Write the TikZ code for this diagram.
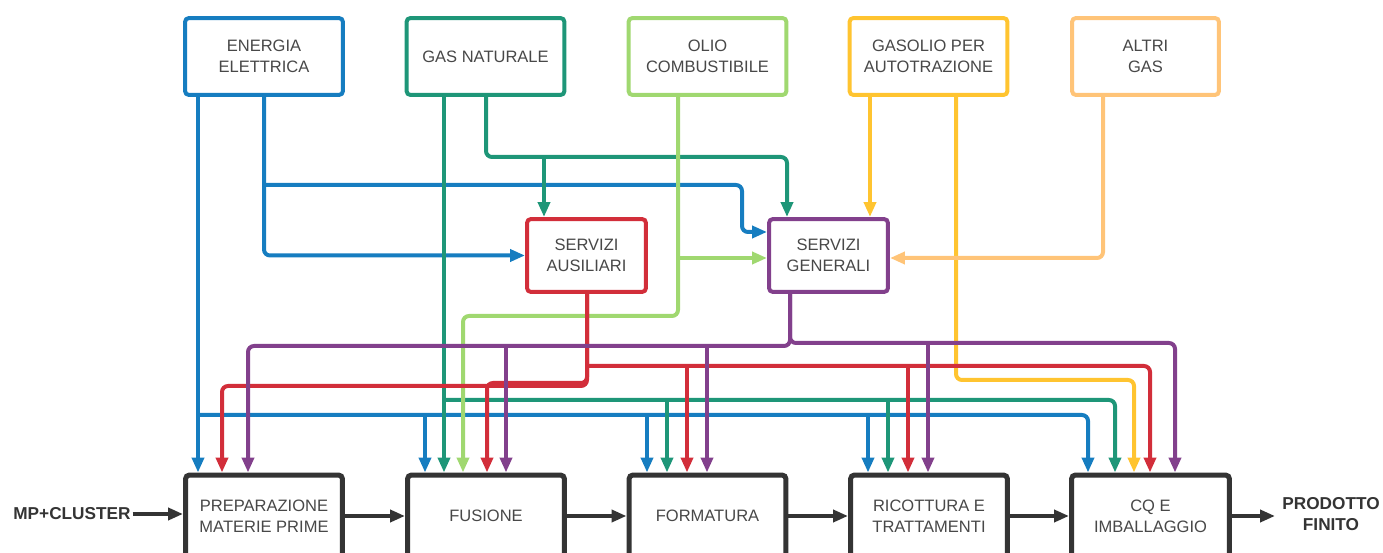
\documentclass[tikz,border=0pt]{standalone}
\usepackage{fontspec}
\setmainfont{Liberation Sans}
\usetikzlibrary{arrows.meta}
\definecolor{cblue}{RGB}{22,125,192}
\definecolor{cgreen}{RGB}{30,150,120}
\definecolor{clgreen}{RGB}{160,216,112}
\definecolor{cyellow}{RGB}{255,196,48}
\definecolor{corange}{RGB}{255,196,120}
\definecolor{cred}{RGB}{210,46,58}
\definecolor{cpurple}{RGB}{130,64,140}
\definecolor{cdark}{RGB}{52,52,52}
\definecolor{txtgray}{RGB}{72,72,72}
\begin{document}
\begin{tikzpicture}[x=0.02cm,y=-0.02cm,
  box/.style={draw, rounded corners=0.08cm, line width=0.08cm, fill=white,
    minimum width=3.16cm, minimum height=1.54cm, inner sep=0pt, align=center,
    text=txtgray, font=\fontsize{9.4}{12}\selectfont},
  midbox/.style={box, minimum width=2.38cm, minimum height=1.46cm},
  botbox/.style={box, draw=cdark, line width=0.1cm, minimum width=3.14cm, minimum height=1.64cm},
  lbl/.style={inner sep=1pt, align=center, text=cdark, font=\fontsize{9.8}{12}\selectfont\bfseries},
  tip/.style={-{Triangle[length=0.3cm,width=0.24cm]}},
  conn/.style={line width=0.08cm, rounded corners=0.12cm, tip},
  flow/.style={line width=0.08cm, draw=cdark, tip}
]
\useasboundingbox (0,0) rectangle (1383,553);

% top sources
\node[box, draw=cblue] (ee) at (264,56.5) {ENERGIA\\ELETTRICA};
\node[box, draw=cgreen] (gn) at (485.5,56.5) {GAS NATURALE};
\node[box, draw=clgreen] (oc) at (707.5,56.5) {OLIO\\COMBUSTIBILE};
\node[box, draw=cyellow] (gpa) at (928.5,56.5) {GASOLIO PER\\AUTOTRAZIONE};
\node[box, draw=corange, minimum width=2.94cm] (ag) at (1145.5,56.5) {ALTRI\\GAS};

% services
\node[midbox, draw=cred] (sa) at (586.5,255.5) {SERVIZI\\AUSILIARI};
\node[midbox, draw=cpurple] (sg) at (828.5,255.5) {SERVIZI\\GENERALI};

% process
\node[botbox] (pmp) at (264,516) {PREPARAZIONE\\MATERIE PRIME};
\node[botbox] (fus) at (486,516) {FUSIONE};
\node[botbox] (form) at (707.5,516) {FORMATURA};
\node[botbox] (rt) at (929,516) {RICOTTURA E\\TRATTAMENTI};
\node[botbox, minimum width=3.16cm] (cq) at (1150.5,516) {CQ E\\IMBALLAGGIO};

\node[lbl] (mp) at (72,514) {MP+CLUSTER};
\node[lbl, inner sep=4pt] (pf) at (1331,514) {PRODOTTO\\FINITO};

% blue
\draw[conn,cblue] (198,0 |- ee.south) -- (198,0 |- pmp.north);
\draw[conn,cblue] (198,415) -| (1088,0 |- cq.north);
\draw[conn,cblue] (425,415) -- (425,0 |- fus.north);
\draw[conn,cblue] (647,415) -- (647,0 |- form.north);
\draw[conn,cblue] (868,415) -- (868,0 |- rt.north);
\draw[conn,cblue] (264,0 |- ee.south) |- (sa.west);
\draw[conn,cblue] (264,185) -- (742,185) -- (742,232) -- (sg.west |- 0,232);

% green
\draw[conn,cgreen] (444,0 |- gn.south) -- (444,0 |- fus.north);
\draw[conn,cgreen] (444,400) -| (1115,0 |- cq.north);
\draw[conn,cgreen] (667,400) -- (667,0 |- form.north);
\draw[conn,cgreen] (888,400) -- (888,0 |- rt.north);
\draw[conn,cgreen] (486,0 |- gn.south) |- (787,157) -- (787,0 |- sg.north);
\draw[conn,cgreen] (544,157) -- (544,0 |- sa.north);

% light green
\draw[conn,clgreen] (678,0 |- oc.south) |- (463,316) -- (463,0 |- fus.north);
\draw[conn,clgreen] (678,258) -- (sg.west |- 0,258);

% yellow
\draw[conn,cyellow] (870,0 |- gpa.south) -- (870,0 |- sg.north);
\draw[conn,cyellow] (956,0 |- gpa.south) |- (1134,380) -- (1134,0 |- cq.north);

% orange
\draw[conn,corange] (1103,0 |- ag.south) |- (sg.east |- 0,258);

% red
\draw[conn,cred] (587,0 |- sa.south) |- (222,386) -- (222,0 |- pmp.north);
\draw[conn,cred] (587,0 |- sa.south) |- (487,383) -- (487,0 |- fus.north);
\draw[conn,cred] (587,366) -| (1150,0 |- cq.north);
\draw[conn,cred] (687,366) -- (687,0 |- form.north);
\draw[conn,cred] (908,366) -- (908,0 |- rt.north);

% purple
\draw[conn,cpurple] (790,0 |- sg.south) |- (248,346) -- (248,0 |- pmp.north);
\draw[conn,cpurple] (790,0 |- sg.south) |- (1175,343) -- (1175,0 |- cq.north);
\draw[conn,cpurple] (506,346) -- (506,0 |- fus.north);
\draw[conn,cpurple] (707,346) -- (707,0 |- form.north);
\draw[conn,cpurple] (928,343) -- (928,0 |- rt.north);

% main flow
\draw[flow] (mp.east) -- (mp.east -| pmp.west);
\draw[flow] (pmp) -- (fus);
\draw[flow] (fus) -- (form);
\draw[flow] (form) -- (rt);
\draw[flow] (rt) -- (cq);
\draw[flow] (cq) -- (cq -| pf.west);
\end{tikzpicture}
\end{document}
